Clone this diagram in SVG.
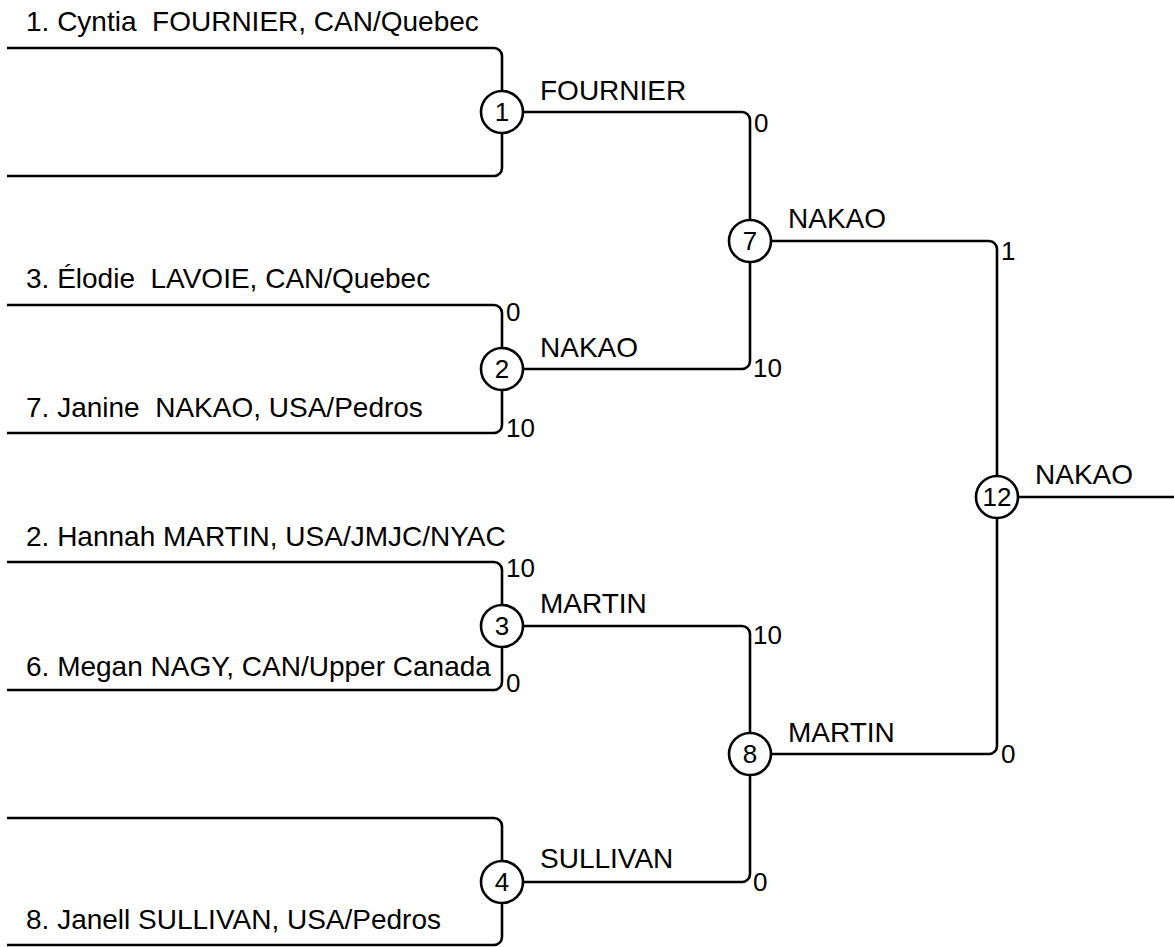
<svg xmlns="http://www.w3.org/2000/svg" width="1174" height="947" viewBox="0 0 1174 947">
<style>
.ln{fill:none;stroke:#000;stroke-width:2.6}
.nd circle{fill:#fff;stroke:#000;stroke-width:2.6}
text{font-family:"Liberation Sans",Arial,sans-serif;fill:#000}
.nm{font-size:28px}
.num{font-size:26px;text-anchor:middle}
.sc{font-size:26px}
</style>
<rect width="1174" height="947" fill="#fff"/>
<g id="connectors">
<path class="ln" d="M7,48 H494 A8,8 0 0 1 502,56 V168 A8,8 0 0 1 494,176 H7"/>
<path class="ln" d="M7,305 H494 A8,8 0 0 1 502,313 V425 A8,8 0 0 1 494,433 H7"/>
<path class="ln" d="M7,562 H494 A8,8 0 0 1 502,570 V682 A8,8 0 0 1 494,690 H7"/>
<path class="ln" d="M7,818 H494 A8,8 0 0 1 502,826 V937 A8,8 0 0 1 494,945 H7"/>
<path class="ln" d="M522,112 H742 A8,8 0 0 1 750,120 V221"/>
<path class="ln" d="M522,369 H742 A8,8 0 0 0 750,361 V261"/>
<path class="ln" d="M522,626 H742 A8,8 0 0 1 750,634 V734"/>
<path class="ln" d="M522,882 H742 A8,8 0 0 0 750,874 V774"/>
<path class="ln" d="M770,241 H989 A8,8 0 0 1 997,249 V477"/>
<path class="ln" d="M770,754 H989 A8,8 0 0 0 997,746 V517"/>
<path class="ln" d="M1017,497 H1174"/>
</g>
<g id="entrants">
<text class="nm" x="26" y="31" xml:space="preserve">1. Cyntia  FOURNIER, CAN/Quebec</text>
<text class="nm" x="26" y="288" xml:space="preserve">3. Élodie  LAVOIE, CAN/Quebec</text>
<text class="nm" x="26" y="417" xml:space="preserve">7. Janine  NAKAO, USA/Pedros</text>
<text class="nm" x="26" y="546">2. Hannah MARTIN, USA/JMJC/NYAC</text>
<text class="nm" x="26" y="676">6. Megan NAGY, CAN/Upper Canada</text>
<text class="nm" x="26" y="929">8. Janell SULLIVAN, USA/Pedros</text>
</g>
<g id="match1" class="nd"><circle cx="502" cy="112" r="21"/><text class="num" x="502" y="121">1</text><text class="nm" x="540" y="100">FOURNIER</text></g>
<g id="match2" class="nd"><circle cx="502" cy="369" r="21"/><text class="num" x="502" y="378">2</text><text class="nm" x="540" y="357">NAKAO</text><text class="sc" x="506" y="321">0</text><text class="sc" x="506" y="437">10</text></g>
<g id="match3" class="nd"><circle cx="502" cy="626" r="21"/><text class="num" x="502" y="635">3</text><text class="nm" x="540" y="613">MARTIN</text><text class="sc" x="506" y="577">10</text><text class="sc" x="506" y="692">0</text></g>
<g id="match4" class="nd"><circle cx="502" cy="882" r="21"/><text class="num" x="502" y="891">4</text><text class="nm" x="540" y="868">SULLIVAN</text></g>
<g id="match7" class="nd"><circle cx="750" cy="241" r="21"/><text class="num" x="750" y="250">7</text><text class="nm" x="788" y="228">NAKAO</text><text class="sc" x="754" y="132">0</text><text class="sc" x="753" y="377">10</text></g>
<g id="match8" class="nd"><circle cx="750" cy="754" r="21"/><text class="num" x="750" y="763">8</text><text class="nm" x="788" y="742">MARTIN</text><text class="sc" x="753" y="644">10</text><text class="sc" x="753" y="891">0</text></g>
<g id="match12" class="nd"><circle cx="997" cy="497" r="21"/><text class="num" x="997" y="506">12</text><text class="nm" x="1035" y="484">NAKAO</text><text class="sc" x="1001" y="260">1</text><text class="sc" x="1001" y="763">0</text></g>
</svg>
